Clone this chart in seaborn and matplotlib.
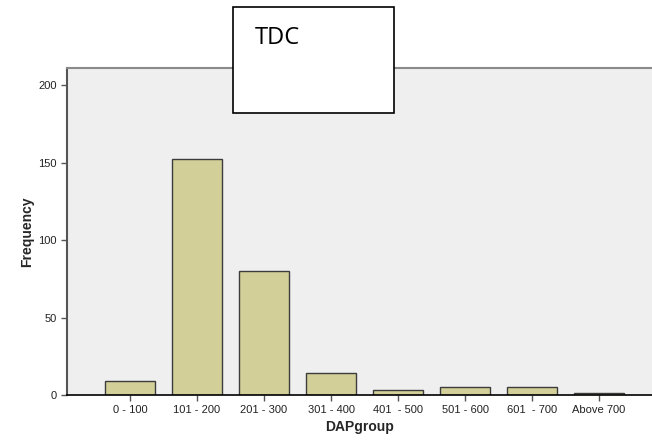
import matplotlib
matplotlib.use("Agg")
import matplotlib.pyplot as plt
import seaborn as sns
import pandas as pd
from matplotlib.patches import Rectangle

# DAP groups and their counts
groups = ["0 - 100", "101 - 200", "201 - 300", "301 - 400",
          "401  - 500", "501 - 600", "601  - 700", "Above 700"]
freq = [9, 152, 80, 14, 3, 5, 5, 1]
yticks = [0, 50, 100, 150, 200]

df = pd.DataFrame({"DAPgroup": groups, "Frequency": freq})

sns.set_style("white")
plt.rcParams["font.family"] = ["Liberation Sans", "DejaVu Sans"]

fig = plt.figure(figsize=(6.52, 4.45), dpi=100)
ax = fig.add_axes([67 / 652, 50 / 445, 1 - 67 / 652, 327 / 445])
ax.set_facecolor("#efefef")

sns.barplot(data=df, x="DAPgroup", y="Frequency", color="#d3cf98",
            edgecolor="#3c3c3c", linewidth=1.0, width=0.75, saturation=1, ax=ax)

ax.set_xlim(-0.94, 7.79)
ax.set_ylim(0, 211)
ax.set_yticks(yticks)
ax.tick_params(axis="both", direction="out", length=4, width=1, color="#555555",
               labelsize=8, labelcolor="#222222", left=True, bottom=True)
ax.set_xlabel("DAPgroup", fontsize=10, fontweight="bold", labelpad=3)
ax.set_ylabel("Frequency", fontsize=10, fontweight="bold", labelpad=3)

for s in ["top", "right"]:
    ax.spines[s].set_color("#8a8a8a")
    ax.spines[s].set_linewidth(1.5)
ax.spines["right"].set_visible(False)
ax.spines["left"].set_color("#555555")
ax.spines["left"].set_linewidth(1.5)
ax.spines["bottom"].set_color("black")
ax.spines["bottom"].set_linewidth(1.2)

# white label box on top
box = Rectangle((233 / 652, (445 - 113) / 445), 161 / 652, 106 / 445,
                transform=fig.transFigure, facecolor="white", edgecolor="black",
                linewidth=1.2, zorder=10)
fig.add_artist(box)
fig.text(255 / 652, (445 - 38) / 445, "TDC", fontsize=17, family="Open Sans",
         color="black", va="center", ha="left", zorder=11)

fig.savefig("out.png", dpi=100)
